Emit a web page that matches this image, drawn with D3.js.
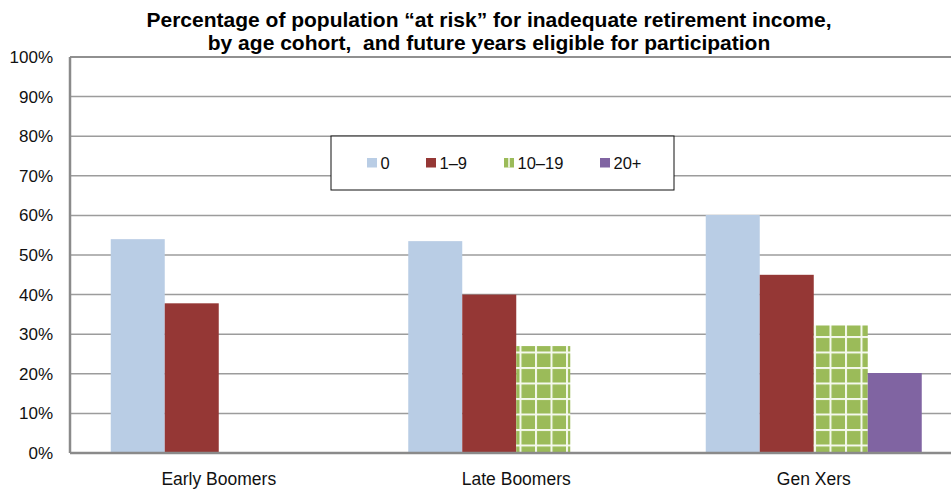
<!DOCTYPE html>
<html>
<head>
<meta charset="utf-8">
<script src="https://cdn.jsdelivr.net/npm/d3@7"></script>
<style>
  html, body { margin: 0; padding: 0; background: #fff; overflow: hidden; }
  svg { display: block; font-family: "Liberation Sans", Arial, Helvetica, sans-serif; }
</style>
</head>
<body>
<svg id="chart" width="951" height="489"></svg>
<script>
// Cohorts along the x axis
const cohorts = ["Early Boomers", "Late Boomers", "Gen Xers"];
// Future years eligible for participation (one series per group)
const seriesNames = ["0", "1–9", "10–19", "20+"];
// Percent at risk, per series, per cohort (null = no bar)
const values0   = [54.0, 53.5, 60.1];
const values1_9 = [37.8, 40.0, 45.0];
const values10_19 = [null, 27.0, 32.2];
const values20p = [null, null, 20.2];
const yTicks = [0, 10, 20, 30, 40, 50, 60, 70, 80, 90, 100];
const titleLines = [
  "Percentage of population \u201cat risk\u201d for inadequate retirement income,",
  "by age cohort,\u00a0 and future years eligible for participation"
];

const seriesValues = [values0, values1_9, values10_19, values20p];
const colors = ["#B9CDE5", "#953735", "#9BBB59", "#8064A2"];

const svg = d3.select("#chart");
const W = 951, H = 489;
// The plot area runs slightly past the right edge of the canvas
const margin = { top: 57, right: -11.5, bottom: 36, left: 70 };
const innerW = W - margin.left - margin.right;
const innerH = H - margin.top - margin.bottom;

// Grid pattern used for the "10–19" series
const defs = svg.append("defs");
const cell = 15.5;
const pat = defs.append("pattern")
  .attr("id", "grid-green")
  .attr("patternUnits", "userSpaceOnUse")
  .attr("width", cell).attr("height", cell);
pat.append("rect").attr("width", cell).attr("height", cell).attr("fill", colors[2]);
pat.append("rect").attr("x", 0).attr("y", 0).attr("width", 2).attr("height", cell).attr("fill", "#f4f8ec");
pat.append("rect").attr("x", 0).attr("y", 0).attr("width", cell).attr("height", 2).attr("fill", "#f4f8ec");
const fills = [colors[0], colors[1], "url(#grid-green)", colors[3]];

const g = svg.append("g").attr("transform", `translate(${margin.left},${margin.top})`);

const x0 = d3.scaleBand().domain(cohorts).range([0, innerW]).paddingInner(0).paddingOuter(0);
const groupW = 216;
const x1 = d3.scaleBand().domain(seriesNames)
  .range([(x0.bandwidth() - groupW) / 2, (x0.bandwidth() + groupW) / 2]).padding(0);
const y = d3.scaleLinear().domain([0, 100]).range([innerH, 0]);

// Horizontal gridlines
g.append("g").selectAll("line")
  .data(yTicks.filter(t => t > 0 && t < 100))
  .join("line")
  .attr("x1", 0).attr("x2", innerW)
  .attr("y1", d => y(d)).attr("y2", d => y(d))
  .attr("stroke", "#9c9c9c").attr("stroke-width", 1.5);
// Top border line at 100%
g.append("line").attr("x1", 0).attr("x2", innerW)
  .attr("y1", y(100)).attr("y2", y(100))
  .attr("stroke", "#222").attr("stroke-width", 1.2);

// Bars
const rows = [];
cohorts.forEach((c, ci) => {
  seriesNames.forEach((s, si) => {
    const v = seriesValues[si][ci];
    if (v != null) rows.push({ cohort: c, series: s, si, value: v });
  });
});
g.append("g").selectAll("rect")
  .data(rows)
  .join("rect")
  .attr("x", d => x0(d.cohort) + x1(d.series))
  .attr("width", x1.bandwidth())
  .attr("y", d => y(d.value))
  .attr("height", d => y(0) - y(d.value))
  .attr("fill", d => fills[d.si]);

// Y axis
const yAxis = g.append("g")
  .call(d3.axisLeft(y).tickValues(yTicks).tickFormat(d => d + "%").tickSize(0).tickPadding(17));
yAxis.select(".domain").remove();
yAxis.selectAll("text").attr("font-size", 17).attr("fill", "#111")
  .attr("font-family", "'Liberation Sans', Arial, sans-serif");
g.append("line").attr("x1", 0).attr("x2", 0).attr("y1", y(100)).attr("y2", y(0))
  .attr("stroke", "#8a8a8a").attr("stroke-width", 2.5);

// X axis
const xAxis = g.append("g").attr("transform", `translate(0,${innerH})`)
  .call(d3.axisBottom(x0).tickSize(0).tickPadding(20));
xAxis.select(".domain").remove();
xAxis.selectAll("text").attr("font-size", 17.5).attr("fill", "#111")
  .attr("font-family", "'Liberation Sans', Arial, sans-serif");
g.append("line").attr("x1", 0).attr("x2", innerW).attr("y1", y(0)).attr("y2", y(0))
  .attr("stroke", "#8a8a8a").attr("stroke-width", 2.5);

// Title
svg.append("g").selectAll("text")
  .data(titleLines)
  .join("text")
  .attr("x", 489).attr("y", (d, i) => 27 + i * 23)
  .attr("text-anchor", "middle")
  .attr("font-weight", "bold").attr("font-size", 21).attr("fill", "#000")
  .text(d => d);

// Legend
const legend = svg.append("g").attr("transform", "translate(331,136)");
legend.append("rect").attr("width", 343).attr("height", 54)
  .attr("fill", "#fff").attr("stroke", "#111").attr("stroke-width", 1);
const legendX = [36, 95, 173, 269];
const items = legend.selectAll("g.item").data(seriesNames).join("g")
  .attr("class", "item")
  .attr("transform", (d, i) => `translate(${legendX[i]},22)`);
items.append("rect").attr("width", 10).attr("height", 9.5)
  .attr("fill", (d, i) => colors[i]);
items.filter((d, i) => i === 2).append("rect")
  .attr("x", 4.2).attr("width", 1.6).attr("height", 9.5).attr("fill", "#f4f8ec");
items.append("text").attr("x", 13.5).attr("y", 11)
  .attr("font-size", 16.5).attr("fill", "#111").text(d => d);
</script>
</body>
</html>
